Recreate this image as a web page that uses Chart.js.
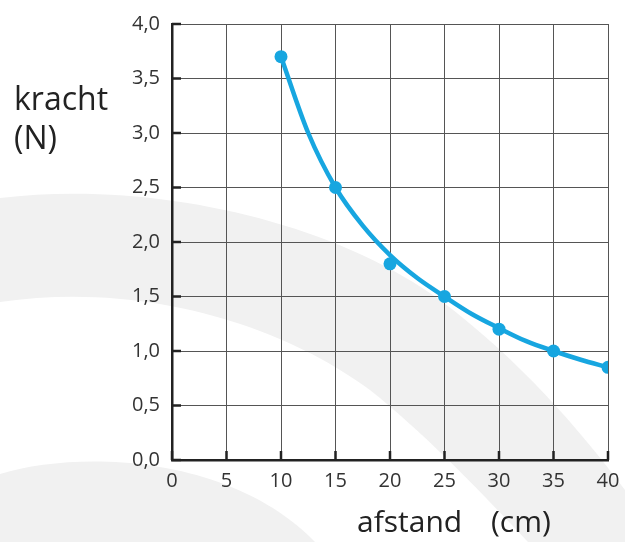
<!DOCTYPE html>
<html>
<head>
<meta charset="utf-8">
<script src="https://cdn.jsdelivr.net/npm/chart.js@4"></script>
<style>
  html, body { margin: 0; padding: 0; background: #fff; }
  #wrap { width: 625px; height: 542px; position: relative; }
</style>
</head>
<body>
<div id="wrap"><canvas id="c"></canvas></div>
<script>
// measured points (afstand in cm, kracht in N)
const afstand = [10, 15, 20, 25, 30, 35, 40];
const kracht = [3.7, 2.5, 1.8, 1.5, 1.2, 1.0, 0.85];

const curveX = [10, 12.5, 15, 17.5, 20, 22.5, 25, 27.5, 30, 32.5, 35, 37.5, 40];
const curveY = [3.7, 3.0, 2.5, 2.15, 1.88, 1.67, 1.5, 1.34, 1.21, 1.09, 1.0, 0.92, 0.85];

const xTicks = [0, 5, 10, 15, 20, 25, 30, 35, 40];
const yTicks = [0, 0.5, 1, 1.5, 2, 2.5, 3, 3.5, 4];

const blue = '#17a6e0';
const fontFam = '"Open Sans", "Noto Sans", sans-serif';

// grey swooshes in the background + white fill
const background = {
    id: 'background',
    beforeDraw: function (chart) {
        const ctx = chart.ctx;
        ctx.save();
        ctx.fillStyle = '#fff';
        ctx.fillRect(0, 0, chart.width, chart.height);
        ctx.fillStyle = '#f1f1f1';
        // big band from left to bottom right
        ctx.beginPath();
        ctx.moveTo(0, 198);
        ctx.bezierCurveTo(150, 180, 330, 220, 440, 300);
        ctx.bezierCurveTo(520, 360, 580, 430, 625, 490);
        ctx.lineTo(625, 542);
        ctx.lineTo(528, 542);
        ctx.bezierCurveTo(470, 480, 420, 430, 370, 390);
        ctx.bezierCurveTo(290, 330, 150, 280, 0, 302);
        ctx.closePath();
        ctx.fill();
        // lower left blob
        ctx.beginPath();
        ctx.moveTo(0, 474);
        ctx.bezierCurveTo(80, 450, 230, 455, 315, 542);
        ctx.lineTo(0, 542);
        ctx.closePath();
        ctx.fill();
        ctx.restore();
    }
};

// short inside tick marks + axis titles
const extras = {
    id: 'extras',
    afterDraw: function (chart) {
        const ctx = chart.ctx;
        const x = chart.scales.x, y = chart.scales.y;
        const a = chart.chartArea;
        ctx.save();
        ctx.strokeStyle = '#222';
        ctx.lineWidth = 2.5;
        ctx.beginPath();
        yTicks.forEach(function (v) {
            const py = y.getPixelForValue(v);
            ctx.moveTo(a.left, py);
            ctx.lineTo(a.left + 9, py);
        });
        xTicks.forEach(function (v) {
            const px = x.getPixelForValue(v);
            ctx.moveTo(px, a.bottom);
            ctx.lineTo(px, a.bottom - 9);
        });
        ctx.stroke();

        ctx.fillStyle = '#222';
        ctx.font = '32px ' + fontFam;
        ctx.textAlign = 'left';
        ctx.textBaseline = 'alphabetic';
        ctx.fillText('kracht', 14, 110);
        ctx.fillText('(N)', 14, 149);
        ctx.font = '30px ' + fontFam;
        ctx.fillText('afstand', 357, 532);
        ctx.fillText('(cm)', 491, 532);
        ctx.restore();
    }
};

new Chart(document.getElementById('c'), {
    type: 'scatter',
    data: {
        datasets: [{
            data: curveX.map(function (v, i) { return { x: v, y: curveY[i] }; }),
            showLine: true,
            borderColor: blue,
            borderWidth: 4.5,
            pointRadius: 0,
            cubicInterpolationMode: 'monotone',
            fill: false
        }, {
            data: afstand.map(function (v, i) { return { x: v, y: kracht[i] }; }),
            showLine: false,
            backgroundColor: blue,
            borderColor: blue,
            pointRadius: 6.5,
            pointBorderWidth: 0
        }]
    },
    options: {
        responsive: true,
        maintainAspectRatio: false,
        animation: false,
        layout: { padding: { left: 0, right: 17, top: 21, bottom: 0 } },
        plugins: {
            legend: { display: false },
            tooltip: { enabled: false }
        },
        scales: {
            x: {
                type: 'linear',
                min: 0,
                max: 40,
                afterBuildTicks: function (scale) {
                    scale.ticks = xTicks.map(function (v) { return { value: v }; });
                },
                afterFit: function (scale) {
                    scale.height = 82;
                    scale.paddingRight = 0;
                    scale.paddingLeft = 0;
                },
                grid: { color: '#555', lineWidth: 1, drawTicks: false },
                border: { color: '#222', width: 2.5 },
                ticks: {
                    padding: 9,
                    color: '#333',
                    font: { family: fontFam, size: 20 },
                    maxRotation: 0,
                    callback: function (v) { return String(v); }
                }
            },
            y: {
                type: 'linear',
                min: 0,
                max: 4,
                afterBuildTicks: function (scale) {
                    scale.ticks = yTicks.map(function (v) { return { value: v }; });
                },
                afterFit: function (scale) { scale.width = 172; },
                grid: { color: '#555', lineWidth: 1, drawTicks: false },
                border: { color: '#222', width: 2.5 },
                ticks: {
                    padding: 12,
                    color: '#333',
                    font: { family: fontFam, size: 20 },
                    callback: function (v) { return v.toFixed(1).replace('.', ','); }
                }
            }
        }
    },
    plugins: [background, extras]
});
</script>
</body>
</html>
